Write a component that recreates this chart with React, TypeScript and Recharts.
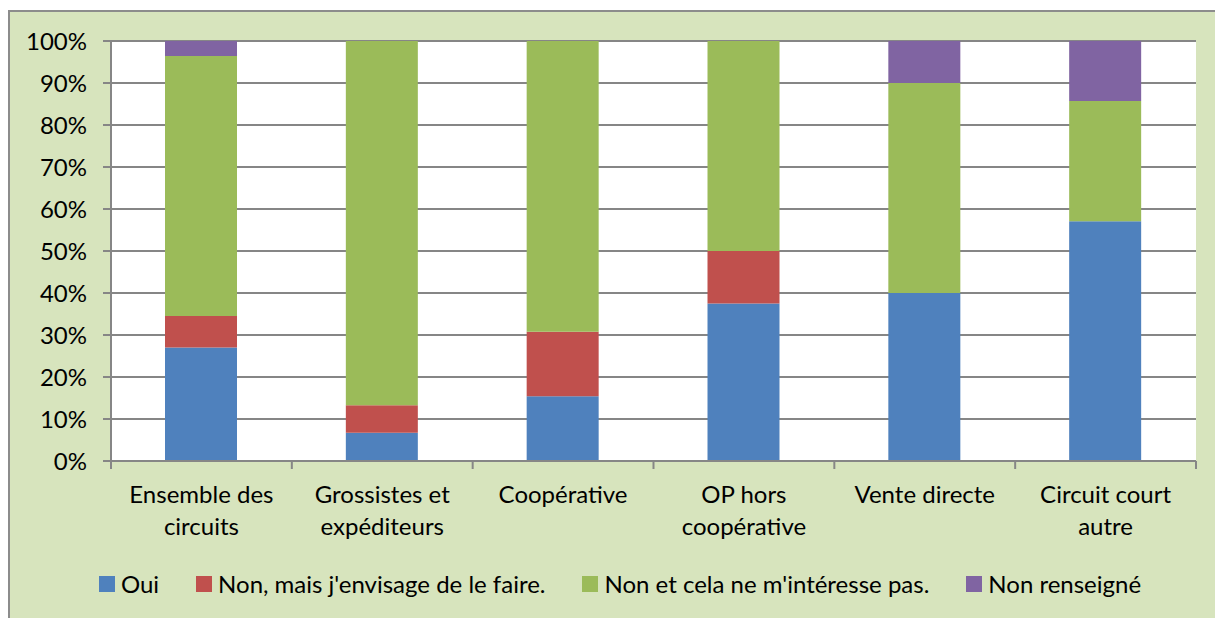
import React from "react"
import { BarChart, Bar, XAxis, YAxis, CartesianGrid } from "recharts"

const categories = [
  "Ensemble des\ncircuits",
  "Grossistes et\nexpéditeurs",
  "Coopérative",
  "OP hors\ncoopérative",
  "Vente directe",
  "Circuit court\nautre",
]

const oui = [27.0, 6.7, 15.4, 37.5, 40.0, 57.1]
const nonMais = [7.5, 6.6, 15.4, 12.5, 0, 0]
const nonPas = [61.9, 86.7, 69.2, 50.0, 50.0, 28.6]
const nonRens = [3.6, 0, 0, 0, 10.0, 14.3]

const yTicks = [0, 10, 20, 30, 40, 50, 60, 70, 80, 90, 100]

const series = [
  { key: "oui", name: "Oui", color: "#4f81bd" },
  { key: "nonMais", name: "Non, mais j'envisage de le faire.", color: "#c0504d" },
  { key: "nonPas", name: "Non et cela ne m'intéresse pas.", color: "#9bbb59" },
  { key: "nonRens", name: "Non renseigné", color: "#8064a2" },
]

const data = categories.map((c, i) => ({
  cat: c,
  oui: oui[i],
  nonMais: nonMais[i],
  nonPas: nonPas[i],
  nonRens: nonRens[i],
}))

const FONT = "Lato, 'Open Sans', sans-serif"
const FS = 24
const AXIS = "#868686"
const CHART_W = 1220
const CHART_H = 560
const M = { top: 29, right: 34, bottom: 0, left: 0 }
const Y_W = 101
const PLOT_W = CHART_W - M.left - M.right - Y_W
const BAND = PLOT_W / categories.length

/* category label plus boundary tick marks like Excel */
function CatTick(props: any) {
  const { x, y, payload, index } = props
  const lines = String(payload.value).split("\n")
  return (
    <g>
      <line x1={x - BAND / 2} x2={x - BAND / 2} y1={y} y2={y + 8} stroke={AXIS} strokeWidth={2} />
      {index === categories.length - 1 && (
        <line x1={x + BAND / 2} x2={x + BAND / 2} y1={y} y2={y + 8} stroke={AXIS} strokeWidth={2} />
      )}
      <text x={x} y={y + 42} textAnchor="middle" fill="#000" fontSize={FS} fontFamily={FONT}>
        {lines.map((l, i) => (
          <tspan key={i} x={x} dy={i === 0 ? 0 : 32}>
            {l}
          </tspan>
        ))}
      </text>
    </g>
  )
}

export default function App() {
  return (
    <div
      style={{
        position: "relative",
        overflow: "hidden",
        marginTop: 2,
        width: 1215,
        height: 608,
        boxSizing: "border-box",
        borderLeft: "2px solid #8c8c8c",
        borderTop: "2px solid #8c8c8c",
        background: "#d7e4bd",
        fontFamily: FONT,
      }}
    >
      <BarChart width={CHART_W} height={CHART_H} data={data} margin={M} barSize={72}>
        <CartesianGrid vertical={false} stroke={AXIS} strokeWidth={2} fill="#ffffff" />
        <XAxis
          dataKey="cat"
          interval={0}
          height={CHART_H - 449}
          tickLine={false}
          tickSize={0}
          tickMargin={0}
          axisLine={{ stroke: AXIS, strokeWidth: 2 }}
          tick={<CatTick />}
        />
        <YAxis
          width={Y_W}
          domain={[0, 100]}
          ticks={yTicks}
          interval={0}
          tickFormatter={(v: number) => `${v}%`}
          tickSize={8}
          tickMargin={16}
          tickLine={{ stroke: AXIS, strokeWidth: 2 }}
          axisLine={{ stroke: AXIS, strokeWidth: 2 }}
          tick={{ fill: "#000", fontSize: FS, fontFamily: FONT }}
        />
        {series.map((s) => (
          <Bar
            key={s.key}
            dataKey={s.key}
            name={s.name}
            stackId="a"
            fill={s.color}
            isAnimationActive={false}
          />
        ))}
      </BarChart>

      {/* Legend */}
      <div
        style={{
          position: "absolute",
          top: 557,
          left: 0,
          width: CHART_W,
          display: "flex",
          justifyContent: "center",
          alignItems: "center",
          gap: 37,
          fontSize: FS,
          color: "#000",
        }}
      >
        {series.map((s) => (
          <div key={s.key} style={{ display: "flex", alignItems: "center", gap: 6 }}>
            <div style={{ width: 16, height: 16, background: s.color }} />
            <span>{s.name}</span>
          </div>
        ))}
      </div>
    </div>
  )
}
